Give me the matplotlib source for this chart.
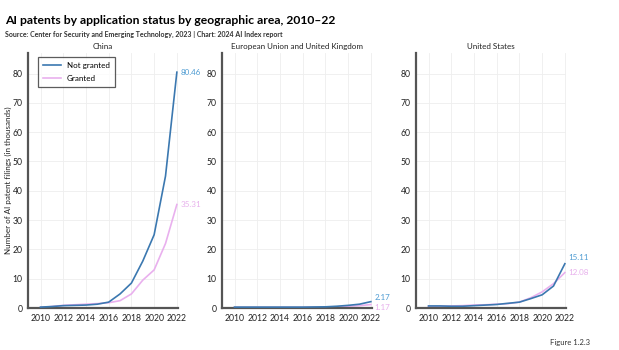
import matplotlib.pyplot as plt

years = list(range(2010, 2023))

# values in thousands of filings
china_not_granted = [0.3, 0.5, 0.8, 0.9, 1.0, 1.3, 2.0, 4.8, 8.5, 16.0, 25.0, 45.0, 80.46]
china_granted = [0.2, 0.5, 0.9, 1.1, 1.3, 1.5, 1.8, 2.5, 4.8, 9.5, 13.0, 22.0, 35.31]
eu_not_granted = [0.3, 0.3, 0.3, 0.3, 0.3, 0.3, 0.3, 0.35, 0.4, 0.6, 0.9, 1.3, 2.17]
eu_granted = [0.2, 0.2, 0.2, 0.2, 0.2, 0.2, 0.2, 0.25, 0.3, 0.4, 0.6, 0.8, 1.17]
us_not_granted = [0.7, 0.7, 0.6, 0.6, 0.8, 1.0, 1.2, 1.6, 2.0, 3.2, 4.5, 7.5, 15.11]
us_granted = [0.5, 0.6, 0.7, 0.8, 1.0, 1.1, 1.3, 1.5, 2.0, 3.5, 5.5, 8.3, 12.08]

panels = ["China", "European Union and United Kingdom", "United States"]
blue = "#3b78b0"
blue_txt = "#4d9bd2"
pink = "#e9b0ee"
pink_txt = "#e7b0ec"

plt.rcParams['font.family'] = ['Lato', 'DejaVu Sans']

fig = plt.figure(figsize=(6.19, 3.5), dpi=100)

lefts = [28, 222, 416]
data = [(china_not_granted, china_granted),
        (eu_not_granted, eu_granted),
        (us_not_granted, us_granted)]
# label vertical offsets (in data units) for the end values
offsets = [(0, 0), (1.3, -1.0), (2.2, 0.0)]

for i, (name, (ng, g)) in enumerate(zip(panels, data)):
    ax = fig.add_axes([lefts[i] / 619, 42 / 350, 150 / 619, 255 / 350])
    ax.plot(years, ng, color=blue, lw=1.2, label="Not granted", zorder=3)
    ax.plot(years, g, color=pink, lw=1.2, label="Granted", zorder=2)
    ax.set_xlim(2008.9, 2022.1)
    ax.set_ylim(0, 87)
    ax.set_xticks(range(2010, 2023, 2))
    ax.set_yticks(range(0, 81, 10))
    ax.grid(True, color="#eeeeee", lw=0.6)
    ax.set_axisbelow(True)
    ax.tick_params(length=0, labelsize=6.2, pad=4, colors="#222222")
    for s in ["top", "right"]:
        ax.spines[s].set_visible(False)
    for s in ["left", "bottom"]:
        ax.spines[s].set_color("#555555")
        ax.spines[s].set_linewidth(1.6)
    ax.set_title(name, fontsize=5.8, pad=3, color="#222222")
    ax.text(2022.3, ng[-1] + offsets[i][0], f"{ng[-1]:.2f}", color=blue_txt,
            fontsize=5.8, va="center", ha="left", clip_on=False)
    ax.text(2022.3, g[-1] + offsets[i][1], f"{g[-1]:.2f}", color=pink_txt,
            fontsize=5.8, va="center", ha="left", clip_on=False)
    if i == 0:
        leg = ax.legend(loc="upper left", fontsize=5.8, frameon=True,
                        fancybox=False, borderpad=0.6, labelspacing=0.8,
                        handlelength=2.2, bbox_to_anchor=(0.04, 1.0))
        leg.get_frame().set_edgecolor("#333333")
        leg.get_frame().set_linewidth(0.9)

fig.text(8 / 619, 1 - 180 / 350, "Number of AI patent filings (in thousands)",
         fontsize=5.8, rotation=90, ha="center", va="center", color="#222222")
fig.text(5 / 619, 1 - 20 / 350, "AI patents by application status by geographic area, 2010–22",
         fontsize=8.7, fontweight="bold", va="center", ha="left")
fig.text(5 / 619, 1 - 34 / 350,
         "Source: Center for Security and Emerging Technology, 2023 | Chart: 2024 AI Index report",
         fontsize=5.0, fontweight="bold", va="center", ha="left", color="#333333")
fig.text(590 / 619, 1 - 342 / 350, "Figure 1.2.3", fontsize=5.5, ha="right",
         va="center", color="#333333")

fig.savefig("out.png", dpi=100)
